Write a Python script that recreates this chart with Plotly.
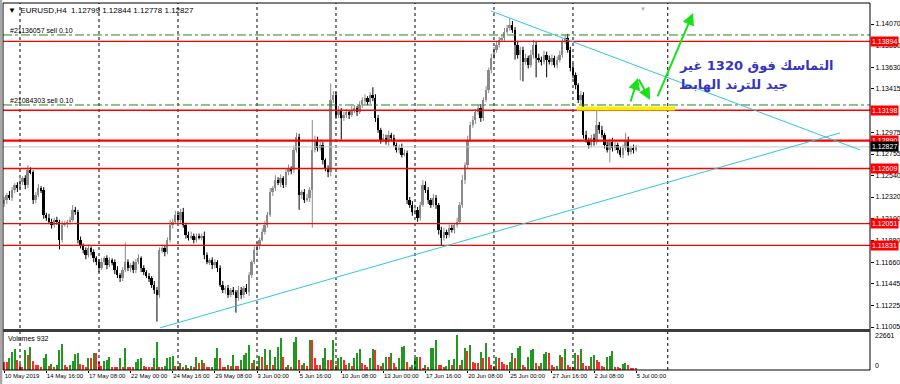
import plotly.graph_objects as go

# ---------------- DATA ----------------
first_open = 1.1225
closes = [
1.1229,1.1234,1.1231,1.1239,1.1244,1.1241,1.1247,1.1251,1.1244,1.1259,
1.1257,1.1229,1.1234,1.1241,1.1239,1.1214,1.1211,1.1207,1.1204,1.1209,
1.1207,1.1189,1.1204,1.1205,1.1207,1.1209,1.1219,1.1217,1.1189,1.1183,
1.1178,1.1173,1.1180,1.1176,1.1170,1.1166,1.1160,1.1166,1.1170,1.1163,
1.1168,1.1166,1.1158,1.1153,1.1150,1.1158,1.1166,1.1160,1.1163,1.1158,
1.1166,1.1170,1.1160,1.1156,1.1152,1.1150,1.1143,1.1138,1.1133,1.1178,
1.1180,1.1176,1.1189,1.1204,1.1207,1.1214,1.1209,1.1217,1.1204,1.1194,
1.1191,1.1193,1.1189,1.1192,1.1191,1.1193,1.1173,1.1166,1.1168,1.1163,
1.1166,1.1160,1.1143,1.1138,1.1140,1.1133,1.1138,1.1136,1.1130,1.1138,
1.1133,1.1140,1.1136,1.1153,1.1166,1.1178,1.1183,1.1189,1.1197,1.1204,
1.1214,1.1237,1.1241,1.1249,1.1246,1.1251,1.1244,1.1257,1.1261,1.1259,
1.1280,1.1293,1.1234,1.1237,1.1229,1.1231,1.1239,1.1280,1.1290,1.1282,
1.1285,1.1269,1.1261,1.1257,1.1330,1.1335,1.1315,1.1320,1.1312,1.1315,
1.1318,1.1315,1.1320,1.1322,1.1318,1.1325,1.1330,1.1332,1.1328,1.1335,
1.1332,1.1312,1.1300,1.1290,1.1292,1.1288,1.1295,1.1292,1.1285,1.1280,
1.1282,1.1275,1.1277,1.1229,1.1224,1.1217,1.1219,1.1211,1.1224,1.1244,
1.1239,1.1229,1.1224,1.1231,1.1224,1.1199,1.1191,1.1197,1.1194,1.1201,
1.1199,1.1204,1.1207,1.1224,1.1249,1.1264,1.1290,1.1305,1.1310,1.1318,
1.1322,1.1312,1.1330,1.1340,1.1360,1.1373,1.1381,1.1386,1.1391,1.1393,
1.1399,1.1403,1.1406,1.1401,1.1386,1.1376,1.1381,1.1369,1.1373,1.1366,
1.1376,1.1386,1.1373,1.1371,1.1369,1.1376,1.1371,1.1369,1.1373,1.1366,
1.1371,1.1376,1.1389,1.1393,1.1381,1.1363,1.1355,1.1345,1.1330,1.1335,
1.1295,1.1290,1.1285,1.1292,1.1288,1.1305,1.1300,1.1295,1.1285,1.1280,
1.1288,1.1282,1.1285,1.1280,1.1275,1.1282,1.1290,1.1278,1.1282,1.1280,
1.12827]

# wick lengths in pips (0.0001)
upper_wick = [
3,2,4,3,2,3,4,2,3,5, 3,2,3,4,2,3,2,4,3,2, 3,2,4,3,2,3,5,3,2,3,
2,3,4,2,3,2,3,4,2,3, 3,2,3,4,2,3,20,3,2,4, 3,4,2,3,2,3,2,4,3,3,
4,3,2,5,3,4,2,3,4,2, 3,4,2,3,3,2,4,3,2,3, 3,2,3,4,2,3,2,3,2,4,
3,2,4,3,2,4,3,2,3,4, 3,4,2,5,3,4,2,3,4,2, 4,4,3,2,3,4,3,30,4,3,
5,3,2,3,17,4,3,4,2,3, 3,2,4,3,2,4,3,4,2,3, 8,4,3,2,4,3,4,2,3,2,
3,4,3,2,3,4,2,3,3,5, 4,3,2,4,3,2,3,4,2,3, 3,2,4,3,5,3,4,3,4,3,
3,4,3,4,3,4,3,4,3,3, 4,3,7,4,3,4,3,3,4,2, 5,5,3,4,3,4,3,4,3,2,
3,4,3,3,4,3,4,3,2,4, 3,4,2,3,4,15,3,4,2,3, 3,4,3,2,3,3,7,3,2,3,
1.7]
lower_wick = [
3,4,2,3,3,4,2,3,4,3, 2,4,3,2,3,4,3,2,4,3, 3,10,3,2,4,3,2,3,4,3,
3,4,2,3,4,3,4,2,3,4, 2,3,4,3,4,3,2,3,4,3, 3,2,4,3,2,4,3,4,27,3,
3,4,2,3,4,2,3,4,3,4, 3,2,4,3,2,3,4,2,3,4, 3,4,2,3,4,3,2,3,15,3,
4,3,2,4,3,2,3,4,2,3, 3,2,4,3,2,4,3,2,3,4, 3,3,15,4,3,2,4,38,3,4,
3,4,3,5,4,3,4,3,22,3, 3,4,2,3,4,2,3,4,3,2, 3,4,3,4,2,3,4,3,2,3,
4,3,2,4,3,4,3,4,3,2, 3,4,3,2,4,5,8,3,4,3, 3,4,3,2,3,4,3,2,3,4,
3,4,3,2,3,3,2,3,3,2, 3,2,3,3,15,4,26,20,3,4, 3,4,20,3,4,3,18,3,4,3,
4,3,3,2,3,4,3,4,3,4, 4,3,4,3,4,3,4,3,4,3, 13,4,3,4,3,4,3,4,3,4,
2.1]

volumes = [
5400,5400,8000,11900,13400,6500,3900,2200,13000,9700,
15100,5800,3200,3200,2200,7600,10400,2800,3700,2200,
3200,13000,16600,3200,2200,3200,5800,10200,11200,3700,
3200,2200,7600,7600,11200,10800,5400,2600,6000,6500,
8200,2200,2200,2200,7600,2200,14500,2200,2200,2200,
5400,7100,7600,2600,2200,2200,2200,7600,18400,2200,
2200,2600,7600,8200,9100,2800,2800,4800,2200,3200,
1500,2600,1700,8200,4800,6500,4300,2200,1700,2200,
7600,14500,7600,2200,2200,3200,2600,9700,2600,2600,
6500,9700,10800,16200,4300,6500,2600,9100,8600,13400,
3200,13000,3200,8600,15100,21000,8600,2200,3200,2200,
18400,21600,6500,3200,4300,2600,19400,19400,7600,3200,
3200,7600,14500,6500,6500,19400,3200,7600,8200,6500,
3200,4300,2600,7600,10800,13400,4300,3200,2200,7600,
13400,13000,3200,2600,4300,8600,8600,10800,4300,2200,
7600,15100,15600,5400,2200,3200,7600,8200,8200,1100,
3200,2200,14000,14500,19400,3200,3200,2200,2600,6500,
3200,7100,22661,3200,6500,14000,12300,16200,5400,4300,
4300,11900,7600,17700,8600,3200,2800,8600,7600,5400,
3900,3200,5400,10800,7600,14000,15800,3200,2200,8200,
13000,13400,4800,2600,4300,10400,11400,10800,3200,2200,
2600,9700,8200,13600,3200,2200,2200,11200,9700,13400,
4300,2600,2600,8600,9700,6500,5400,2600,2200,8600,
9300,12500,1700,1700,1100,3900,4300,3200,1100,1100,
932]

date_ticks = list(range(0, 241, 16))
date_labels = ["10 May 2019", "14 May 16:00", "17 May 08:00", "22 May 00:00",
               "24 May 16:00", "29 May 08:00", "3 Jun 00:00", "5 Jun 16:00",
               "10 Jun 08:00", "13 Jun 00:00", "17 Jun 16:00", "20 Jun 08:00",
               "25 Jun 00:00", "27 Jun 16:00", "2 Jul 08:00", "5 Jul 00:00"]
week_grid = [6, 36, 66, 96, 126, 156, 186, 216, 252]

# 1.13195 is hidden under the 1.13198 level label in the reference
price_ticks = [1.14070, 1.13850, 1.13630, 1.13415, 1.12975, 1.12755,
               1.12540, 1.12320, 1.12100, 1.11880, 1.11660, 1.11445, 1.11225, 1.11005]
red_levels = [1.13894, 1.13198, 1.12890, 1.12609, 1.12051, 1.11831]
order_levels = [1.13959, 1.13251]
order_labels = ["#21136057 sell 0.10", "#21084303 sell 0.10"]
bid_price = 1.12827

# drawn objects (bar index, price)
trend_down = [(184.9, 1.14201), (325.0, 1.12796)]
trend_up = [(59.2, 1.10997), (317.4, 1.12968)]
yellow_zone = [(217.5, 1.13215), (254.8, 1.13215)]
arrows = [((237.7, 1.13271), (240.7, 1.13524)),
          ((240.7, 1.13524), (245.3, 1.13302)),
          ((247.9, 1.13322), (261.6, 1.14181))]
comment_lines = ["التماسك فوق 1320 غير", "جيد للترند الهابط"]
comment_pos = [(255.5, 1.13655), (255.5, 1.13463)]

# ---------------- FIGURE ----------------
n = len(closes)
idx = list(range(n))
opens = [first_open] + closes[:-1]
opens[-1] = 1.12799
highs = [max(o, c) + u * 1e-4 for o, c, u in zip(opens, closes, upper_wick)]
lows = [min(o, c) - d * 1e-4 for o, c, d in zip(opens, closes, lower_wick)]

BULL = "#8a8a8a"
BEAR = "#000000"
FONT = "Liberation Sans Narrow, Liberation Sans, Arial, sans-serif"

fig = go.Figure()

for up, col in [(True, BULL), (False, BEAR)]:
    xs, ys = [], []
    for i in idx:
        if (closes[i] >= opens[i]) == up:
            xs += [i, i, None]
            ys += [lows[i], highs[i], None]
    fig.add_trace(go.Scatter(x=xs, y=ys, mode="lines", line=dict(color=col, width=1),
                             hoverinfo="skip", showlegend=False, xaxis="x", yaxis="y"))

body_base = [min(o, c) for o, c in zip(opens, closes)]
body_h = [max(abs(c - o), 0.00004) for o, c in zip(opens, closes)]
body_col = [BULL if c >= o else BEAR for o, c in zip(opens, closes)]
fig.add_trace(go.Bar(x=idx, y=body_h, base=body_base, width=0.7,
                     marker=dict(color=body_col, line=dict(width=0)),
                     showlegend=False, xaxis="x", yaxis="y"))

vol_col = ["#ff2a2a"] + ["#1f9a1f" if volumes[i] > volumes[i - 1] else "#ff2a2a" for i in range(1, n)]
fig.add_trace(go.Bar(x=idx, y=volumes, width=0.5,
                     marker=dict(color=vol_col, line=dict(width=0)),
                     showlegend=False, xaxis="x", yaxis="y2"))

shapes = []
for g in week_grid:
    shapes.append(dict(type="line", xref="x", yref="paper", x0=g, x1=g, y0=0, y1=1,
                       line=dict(color="#000000", width=1, dash="dot")))
shapes.append(dict(type="line", xref="paper", yref="y", x0=0, x1=1, y0=bid_price, y1=bid_price,
                   line=dict(color="#c8c8c8", width=1)))
for lv in order_levels:
    shapes.append(dict(type="line", xref="paper", yref="y", x0=0, x1=1, y0=lv, y1=lv,
                       line=dict(color="#1f8a1f", width=1, dash="dashdot")))
for lv in red_levels:
    w = 2.2 if lv == 1.12890 else 1.4
    shapes.append(dict(type="line", xref="paper", yref="y", x0=0, x1=1, y0=lv, y1=lv,
                       line=dict(color="#ff0000", width=w)))
for (a, b) in [trend_down, trend_up]:
    shapes.append(dict(type="line", xref="x", yref="y", x0=a[0], y0=a[1], x1=b[0], y1=b[1],
                       line=dict(color="#2ec8dc", width=1)))
shapes.append(dict(type="line", xref="x", yref="y", x0=yellow_zone[0][0], y0=yellow_zone[0][1],
                   x1=yellow_zone[1][0], y1=yellow_zone[1][1],
                   line=dict(color="#ffee00", width=4)))
shapes.append(dict(type="rect", xref="paper", yref="paper", x0=0, x1=1, y0=0, y1=1,
                   line=dict(color="#000000", width=1)))
shapes.append(dict(type="line", xref="paper", yref="paper", x0=0, x1=1, y0=0.1076, y1=0.1076,
                   line=dict(color="#3c3c3c", width=3)))
shapes.append(dict(type="rect", xref="paper", yref="paper", x0=-0.0035, x1=-0.0008, y0=-0.04, y1=1.01,
                   line=dict(width=0), fillcolor="#a8a8a8"))

ann = []
ann.append(dict(xref="paper", yref="paper", x=0, y=1, xanchor="left", yanchor="top",
                xshift=3, yshift=-1, showarrow=False,
                text="▼  EURUSD,H4  1.12799 1.12844 1.12778 1.12827",
                font=dict(family=FONT, size=8, color="#000000")))
for lv, t in zip(order_levels, order_labels):
    ann.append(dict(xref="paper", yref="y", x=0, y=lv, xanchor="left", yanchor="bottom",
                    xshift=5, yshift=-1, showarrow=False, text=t,
                    font=dict(family=FONT, size=7, color="#000000")))
ann.append(dict(xref="paper", yref="paper", x=0, y=0.1, xanchor="left", yanchor="top",
                xshift=3, showarrow=False, text="Volumes 932",
                font=dict(family=FONT, size=7, color="#000000")))
for lv in red_levels:
    ann.append(dict(xref="paper", yref="y", x=1, y=lv, xanchor="left", yanchor="middle",
                    showarrow=False, text="%.5f" % lv, bgcolor="#ff0000", borderpad=1,
                    font=dict(family=FONT, size=7, color="#ffffff")))
ann.append(dict(xref="paper", yref="y", x=1, y=bid_price, xanchor="left", yanchor="middle",
                showarrow=False, text="%.5f" % bid_price, bgcolor="#000000", borderpad=1,
                font=dict(family=FONT, size=7, color="#ffffff")))
ann.append(dict(xref="paper", yref="y2", x=1, y=22661, xanchor="left", yanchor="middle",
                xshift=3, showarrow=False, text="22661",
                font=dict(family=FONT, size=7, color="#000000")))
ann.append(dict(xref="paper", yref="paper", x=1, y=0.012, xanchor="left", yanchor="middle",
                xshift=3, showarrow=False, text="0",
                font=dict(family=FONT, size=7, color="#000000")))
ann.append(dict(xref="x", yref="paper", x=242.6, y=1, xanchor="center", yanchor="top",
                showarrow=False, text="▼", font=dict(size=6, color="#b0b0b0")))
for (tail, head) in arrows:
    ann.append(dict(xref="x", yref="y", axref="x", ayref="y", x=head[0], y=head[1],
                    ax=tail[0], ay=tail[1], text="", showarrow=True, arrowhead=2,
                    arrowsize=1.2, arrowwidth=2, arrowcolor="#19e019"))
for t, (cx, cy) in zip(comment_lines, comment_pos):
    ann.append(dict(xref="x", yref="y", x=cx, y=cy, xanchor="left", yanchor="middle",
                    showarrow=False, text="<b>" + t + "</b>",
                    font=dict(family="DejaVu Sans", size=13, color="#3535c0")))

fig.update_layout(
    width=900, height=384,
    margin=dict(l=3, r=30, t=3, b=14, autoexpand=False),
    paper_bgcolor="#ffffff", plot_bgcolor="#ffffff",
    showlegend=False, barmode="overlay", bargap=0,
    shapes=shapes, annotations=ann,
    xaxis=dict(range=[-0.46, 328.8], anchor="y2", showgrid=False, zeroline=False,
               tickvals=date_ticks, ticktext=date_labels, ticks="outside", ticklen=2,
               tickangle=0, automargin=False,
               tickcolor="#000000", ticklabelposition="outside right",
               tickfont=dict(family=FONT, size=6, color="#000000"), showline=False),
    yaxis=dict(domain=[0.1117, 1], range=[1.109848, 1.142824], side="right",
               showgrid=False, zeroline=False, tickvals=price_ticks, automargin=False,
               ticktext=["%.5f" % v for v in price_ticks], ticks="outside", ticklen=3,
               tickcolor="#000000", tickfont=dict(family=FONT, size=7, color="#000000")),
    yaxis2=dict(domain=[0, 0.1008], range=[0, 24000], side="right", showgrid=False,
                zeroline=False, showticklabels=False, ticks="", automargin=False),
)

fig.write_html("out.html")
